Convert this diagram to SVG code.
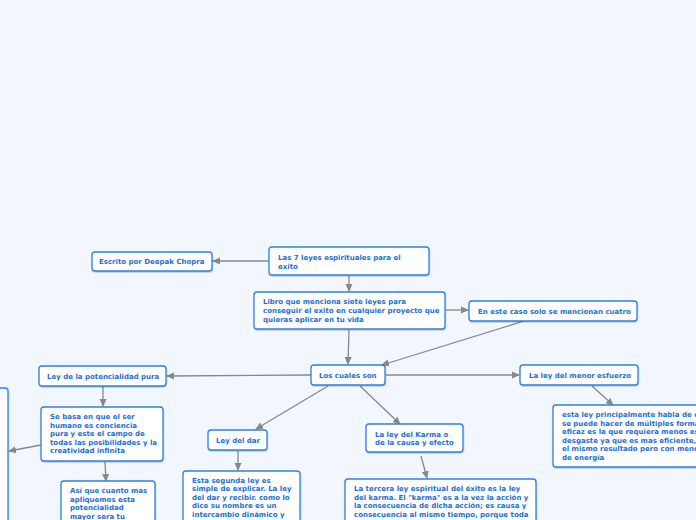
<svg xmlns="http://www.w3.org/2000/svg" width="696" height="520" viewBox="0 0 696 520">
<defs>
<marker id="ah" markerWidth="8" markerHeight="8" refX="7" refY="4" orient="auto" markerUnits="userSpaceOnUse">
<path d="M0,0.5 L8,4 L0,7.5 Z" fill="#888"/>
</marker>
<filter id="sh" x="-10%" y="-10%" width="120%" height="130%">
<feDropShadow dx="0.5" dy="1" stdDeviation="0.6" flood-color="#000" flood-opacity="0.2"/>
</filter>
<style>
.n rect{fill:#fff;stroke:#2f80dd;stroke-width:1.3;filter:url(#sh)}
.n text{font-family:"DejaVu Sans",Verdana,sans-serif;font-weight:bold;font-size:7px;fill:#1d6fd3}
.c line{stroke:#888;stroke-width:1.3;marker-end:url(#ah)}
</style>
</defs>
<rect width="696" height="520" fill="#f2f6fe"/>
<g class="c">
<line x1="269" y1="261" x2="213" y2="261"/>
<line x1="349" y1="276" x2="349" y2="291"/>
<line x1="446" y1="310" x2="468" y2="310"/>
<line x1="349" y1="330" x2="348" y2="364"/>
<line x1="524" y1="321" x2="382" y2="365"/>
<line x1="311" y1="375" x2="167" y2="376"/>
<line x1="386" y1="375" x2="519" y2="375"/>
<line x1="328" y1="386" x2="256" y2="429"/>
<line x1="360" y1="386" x2="400" y2="424"/>
<line x1="103" y1="386" x2="103" y2="406"/>
<line x1="41" y1="445" x2="9" y2="451"/>
<line x1="105" y1="462" x2="106" y2="481"/>
<line x1="238" y1="451" x2="238" y2="470"/>
<line x1="421" y1="456" x2="427" y2="478"/>
<line x1="592" y1="386" x2="613" y2="405"/>
</g>
<g id="n-escrito" class="n"><rect x="92" y="252" width="120" height="19" rx="3"/><text x="99" y="264">Escrito por Deepak Chopra</text></g>
<g id="n-las7" class="n"><rect x="269" y="247" width="160" height="28" rx="3"/><text x="278" y="260">Las 7 leyes espirituales para el</text><text x="278" y="268.5">exito</text></g>
<g id="n-libro" class="n"><rect x="254" y="292" width="191" height="37" rx="3"/><text x="263" y="304">Libro que menciona siete leyes para</text><text x="263" y="313">conseguir el exito en cualquier proyecto que</text><text x="263" y="322">quieras aplicar en tu vida</text></g>
<g id="n-eneste" class="n"><rect x="469" y="301" width="168" height="20" rx="3"/><text x="478" y="314">En este caso solo se mencionan cuatro</text></g>
<g id="n-loscuales" class="n"><rect x="311" y="365" width="74" height="20" rx="3"/><text x="319" y="378">Los cuales son</text></g>
<g id="n-potencialidad" class="n"><rect x="39" y="366" width="127" height="20" rx="3"/><text x="47" y="379">Ley de la potencialidad pura</text></g>
<g id="n-menor" class="n"><rect x="520" y="365" width="118" height="20" rx="3"/><text x="529" y="378">La ley del menor esfuerzo</text></g>
<g id="n-left" class="n"><rect x="-20" y="388" width="28" height="150" rx="3"/></g>
<g id="n-sebasa" class="n"><rect x="41" y="407" width="122" height="54" rx="3"/><text x="50" y="419">Se basa en que el ser</text><text x="50" y="427.5">humano es conciencia</text><text x="50" y="436">pura y este el campo de</text><text x="50" y="444.5">todas las posibilidades y la</text><text x="50" y="453">creatividad infinita</text></g>
<g id="n-asi" class="n"><rect x="61" y="481" width="94" height="50" rx="3"/><text x="70" y="493">Así que cuanto mas</text><text x="70" y="501.5">apliquemos esta</text><text x="70" y="510">potencialidad</text><text x="70" y="518.5">mayor sera tu</text></g>
<g id="n-dar" class="n"><rect x="208" y="430" width="59" height="20" rx="3"/><text x="216" y="443">Ley del dar</text></g>
<g id="n-segunda" class="n"><rect x="183" y="471" width="117" height="60" rx="3"/><text x="192" y="482.5">Esta segunda ley es</text><text x="192" y="491">simple de explicar. La ley</text><text x="192" y="499.5">del dar y recibir. como lo</text><text x="192" y="508">dice su nombre es un</text><text x="192" y="516.5">intercambio dinámico y</text></g>
<g id="n-karma" class="n"><rect x="366" y="424" width="97" height="28" rx="3"/><text x="375" y="436.5">La ley del Karma o</text><text x="375" y="445">de la causa y efecto</text></g>
<g id="n-tercera" class="n"><rect x="345" y="479" width="191" height="52" rx="3"/><text x="354" y="491">La tercera ley espiritual del éxito es la ley</text><text x="354" y="499.5">del karma. El "karma" es a la vez la acción y</text><text x="354" y="508">la consecuencia de dicha acción; es causa y</text><text x="354" y="516.5">consecuencia al mismo tiempo, porque toda</text></g>
<g id="n-esfuerzo" class="n"><rect x="553" y="405" width="160" height="62" rx="3"/><text x="562" y="417">esta ley principalmente habla de que</text><text x="562" y="425.5">se puede hacer de múltiples formas</text><text x="562" y="434">eficaz es la que requiera menos esfuerzo</text><text x="562" y="442.5">desgaste ya que es mas eficiente,</text><text x="562" y="451">el mismo resultado pero con menos</text><text x="562" y="459.5">de energía</text></g>
</svg>
